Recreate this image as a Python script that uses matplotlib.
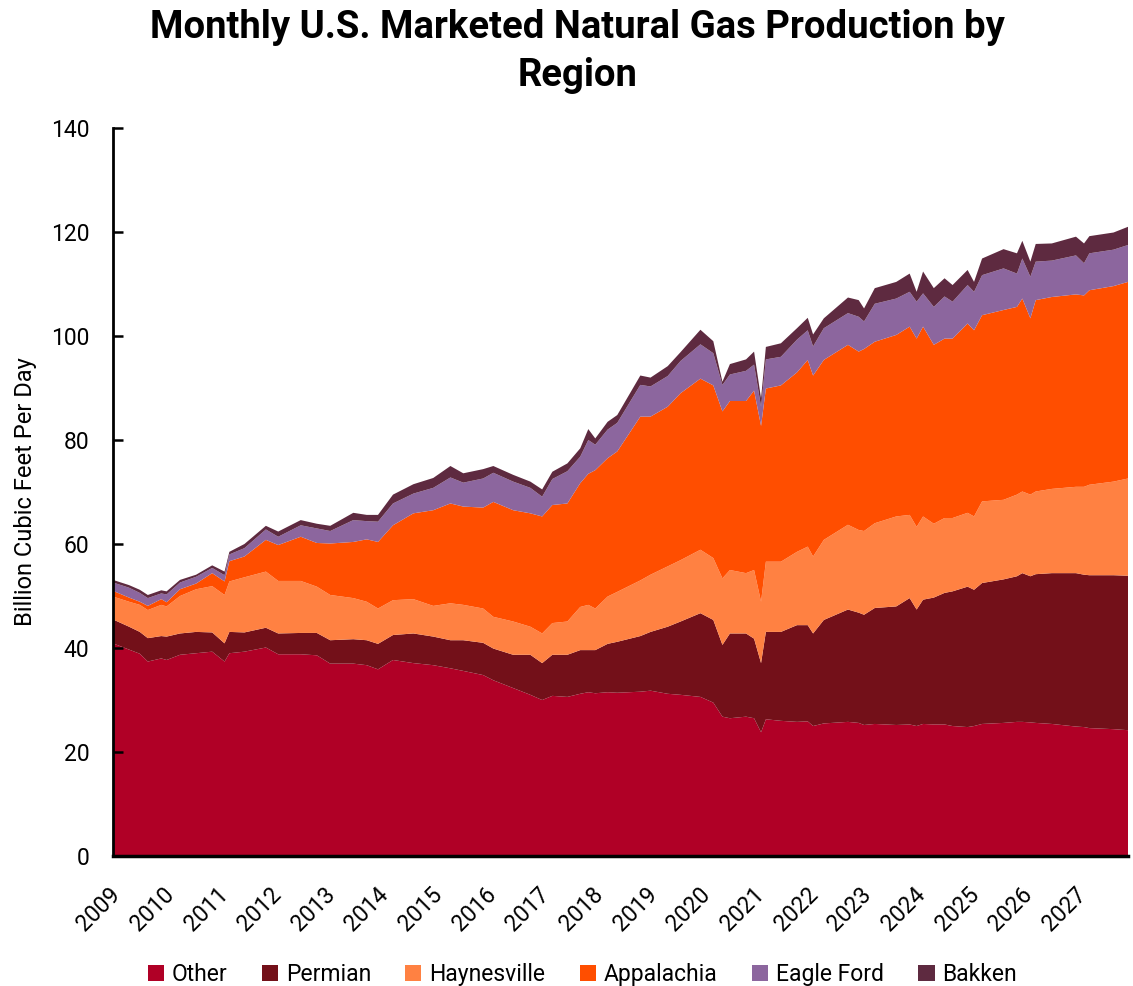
import matplotlib
matplotlib.use("Agg")
import matplotlib.pyplot as plt
import matplotlib.transforms as mtransforms

plt.rcParams['font.family'] = ['Roboto', 'DejaVu Sans']

# time in decimal years
t = [2009.00, 2009.30, 2009.50, 2009.65, 2009.90, 2010.00, 2010.25, 2010.55, 2010.85, 2011.08,
     2011.17, 2011.45, 2011.85, 2012.08, 2012.50, 2012.80, 2013.05, 2013.48, 2013.73, 2013.94,
     2014.22, 2014.60, 2014.97, 2015.29, 2015.53, 2015.90, 2016.09, 2016.46, 2016.78, 2017.00,
     2017.19, 2017.47, 2017.71, 2017.86, 2017.99, 2018.22, 2018.40, 2018.83, 2019.02, 2019.34,
     2019.58, 2019.95, 2020.19, 2020.36, 2020.50, 2020.80, 2020.95, 2021.08, 2021.17, 2021.45,
     2021.75, 2021.95, 2022.05, 2022.25, 2022.70, 2022.90, 2023.00, 2023.20, 2023.60, 2023.85,
     2023.98, 2024.10, 2024.30, 2024.50, 2024.65, 2024.93, 2025.05, 2025.20, 2025.60, 2025.85,
     2025.95, 2026.10, 2026.20, 2026.50, 2026.95, 2027.10, 2027.20, 2027.65, 2027.92]

other = [40.9, 39.7, 38.9, 37.4, 38.0, 37.7, 38.7, 39.0, 39.3, 37.4,
         39.0, 39.3, 40.1, 38.8, 38.8, 38.6, 37.0, 37.0, 36.7, 35.9,
         37.7, 37.1, 36.7, 36.1, 35.6, 34.8, 33.8, 32.3, 31.0, 30.0,
         30.8, 30.6, 31.2, 31.5, 31.3, 31.5, 31.4, 31.6, 31.8, 31.2,
         31.0, 30.6, 29.5, 26.8, 26.5, 26.8, 26.5, 23.8, 26.3, 26.0,
         25.8, 25.9, 25.0, 25.5, 25.8, 25.6, 25.2, 25.4, 25.2, 25.3,
         25.0, 25.4, 25.3, 25.3, 25.0, 24.8, 25.0, 25.4, 25.6, 25.8,
         25.8, 25.7, 25.6, 25.4, 24.9, 24.8, 24.6, 24.4, 24.2]

permian = [4.6, 4.4, 4.2, 4.5, 4.3, 4.5, 4.1, 4.1, 3.7, 3.5,
           4.1, 3.7, 3.8, 4.0, 4.1, 4.3, 4.5, 4.7, 4.8, 4.9,
           4.8, 5.7, 5.5, 5.4, 5.9, 6.2, 6.1, 6.4, 7.7, 7.1,
           7.9, 8.1, 8.4, 8.1, 8.3, 9.3, 9.8, 10.7, 11.3, 12.9,
           14.1, 16.1, 15.9, 13.8, 16.3, 16.0, 15.3, 13.3, 16.8, 17.1,
           18.6, 18.5, 17.8, 19.9, 21.6, 21.2, 21.2, 22.3, 22.8, 24.3,
           22.4, 23.9, 24.4, 25.3, 25.9, 27.0, 26.2, 27.1, 27.6, 28.0,
           28.6, 28.1, 28.6, 29.0, 29.5, 29.3, 29.4, 29.6, 29.7]

haynesville = [4.4, 4.8, 5.2, 5.4, 6.0, 5.8, 7.2, 8.2, 8.9, 9.3,
               9.7, 10.6, 10.8, 10.1, 10.0, 8.9, 8.7, 7.9, 7.4, 6.8,
               6.7, 6.6, 5.9, 7.1, 6.8, 6.6, 6.1, 6.4, 5.4, 5.7,
               6.1, 6.4, 8.3, 8.7, 8.0, 9.1, 9.6, 10.7, 11.0, 11.6,
               11.8, 12.2, 11.9, 12.8, 12.2, 11.6, 13.2, 11.8, 13.5, 13.5,
               14.1, 15.1, 14.8, 15.4, 16.3, 15.9, 16.1, 16.3, 17.3, 16.0,
               15.9, 16.0, 14.2, 14.4, 14.1, 14.2, 14.1, 15.7, 15.3, 15.7,
               15.7, 15.7, 15.9, 16.2, 16.6, 16.9, 17.4, 18.0, 18.7]

appalachia = [1.1, 0.8, 0.6, 0.8, 1.1, 0.8, 1.3, 1.1, 2.5, 2.6,
              3.9, 4.0, 6.1, 6.9, 8.5, 8.4, 9.9, 10.8, 12.0, 12.8,
              14.4, 16.5, 18.4, 19.2, 18.9, 19.4, 22.1, 21.4, 21.8, 22.5,
              22.7, 22.7, 23.8, 25.2, 26.6, 26.6, 27.0, 31.5, 30.4, 30.7,
              32.1, 32.9, 33.2, 32.1, 32.5, 33.1, 34.5, 33.8, 33.3, 33.9,
              34.5, 35.9, 34.8, 34.6, 34.6, 34.3, 35.0, 34.9, 34.9, 36.2,
              36.2, 36.5, 34.4, 34.5, 34.5, 36.4, 35.8, 35.8, 36.5, 36.1,
              37.1, 33.9, 36.8, 36.9, 37.0, 36.8, 37.4, 37.6, 37.8]

eagle_ford = [1.6, 1.9, 1.7, 1.5, 1.1, 1.5, 1.3, 1.3, 1.0, 1.2,
              1.3, 1.6, 2.0, 1.6, 2.2, 2.8, 2.4, 4.2, 3.5, 3.9,
              4.2, 3.8, 4.3, 5.0, 4.6, 5.6, 5.6, 5.5, 4.9, 3.8,
              5.0, 6.2, 5.1, 6.5, 4.9, 5.5, 5.5, 6.1, 5.8, 5.9,
              6.2, 6.6, 6.2, 5.1, 5.1, 5.8, 5.0, 3.7, 5.6, 5.5,
              6.3, 5.7, 5.6, 6.1, 6.1, 6.7, 5.3, 7.3, 7.0, 6.7,
              7.1, 6.4, 7.3, 8.1, 7.1, 7.4, 7.4, 7.7, 8.0, 6.4,
              7.7, 8.0, 7.4, 7.0, 7.5, 6.2, 7.1, 7.0, 7.1]

bakken = [0.5, 0.5, 0.6, 0.6, 0.6, 0.6, 0.5, 0.4, 0.5, 0.7,
          0.5, 0.8, 0.7, 1.0, 1.0, 0.9, 1.0, 1.4, 1.2, 1.3,
          1.7, 1.8, 1.9, 2.2, 1.8, 1.8, 1.3, 1.3, 1.2, 1.4,
          1.4, 1.5, 1.6, 2.1, 1.2, 1.5, 1.5, 1.8, 1.7, 1.9,
          1.7, 2.8, 2.3, 0.6, 2.0, 2.2, 2.5, 1.6, 2.4, 2.6,
          2.2, 2.4, 2.3, 1.9, 3.0, 3.2, 2.5, 3.0, 3.2, 3.5,
          1.9, 4.2, 3.6, 3.5, 3.2, 2.9, 1.9, 3.2, 3.7, 3.9,
          3.4, 2.9, 3.4, 3.3, 3.6, 3.8, 3.3, 3.3, 3.5]

labels = ['Other', 'Permian', 'Haynesville', 'Appalachia', 'Eagle Ford', 'Bakken']
colors = ['#B00026', '#731019', '#FF8142', '#FF4E00', '#8C669E', '#5E2A40']
years = list(range(2009, 2028))

fig = plt.figure(figsize=(11.33, 9.86), dpi=100)
ax = fig.add_axes([0.0997, 0.1318, 0.8959, 0.7384])

ax.stackplot(t, other, permian, haynesville, appalachia, eagle_ford, bakken,
             labels=labels, colors=colors, linewidth=0)

ax.set_xlim(2009, 2027.92)
ax.set_ylim(0, 140)
ax.set_yticks(range(0, 141, 20))
ax.set_xticks(years)
ax.set_xticklabels([str(y) for y in years], rotation=45, ha='right',
                   va='center', rotation_mode='anchor')
ax.tick_params(axis='y', direction='in', length=7, width=1.8, pad=17, labelsize=16.5)
ax.tick_params(axis='x', length=0, pad=25, labelsize=16.5)
# nudge the rotated year labels a few pixels right
shift = mtransforms.ScaledTranslation(0.04, 0, fig.dpi_scale_trans)
for lbl in ax.get_xticklabels():
    lbl.set_transform(lbl.get_transform() + shift)

for side in ['top', 'right']:
    ax.spines[side].set_visible(False)
ax.spines['left'].set_linewidth(2)
ax.spines['bottom'].set_linewidth(2.5)

ax.set_ylabel('Billion Cubic Feet Per Day', fontsize=17, labelpad=10)

fig.text(0.51, 0.991, 'Monthly U.S. Marketed Natural Gas Production by\nRegion',
         ha='center', va='top', fontsize=27.5, fontweight='bold', linespacing=1.37)

fig.legend(loc='lower center', bbox_to_anchor=(0.514, -0.021), ncol=6, frameon=False,
           fontsize=16.5, handlelength=0.7, handleheight=0.7, handletextpad=0.35,
           columnspacing=1.5)

fig.savefig('out.png', dpi=100)
